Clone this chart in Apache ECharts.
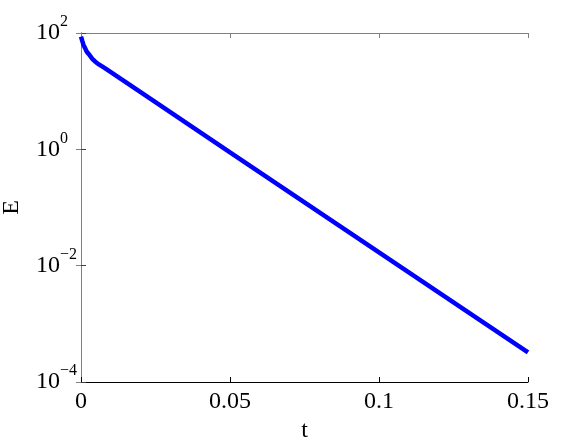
<!DOCTYPE html>
<html>
<head>
<meta charset="utf-8">
<script src="https://cdn.jsdelivr.net/npm/echarts@6/dist/echarts.min.js"></script>
<style>
  html, body { margin: 0; padding: 0; background: #fff; }
  #chart { width: 582px; height: 439px; }
</style>
</head>
<body>
<div id="chart"></div>
<script>
// t values and energy E
const tValues = [0, 0.0004, 0.0008, 0.0013, 0.0019, 0.0025, 0.003, 0.0038, 0.0047, 0.006, 0.008, 0.02, 0.05, 0.09, 0.12, 0.15];
const eValues = [87, 74, 63, 56, 48, 44, 41, 36, 32.4, 28.8, 24.8, 9.6, 0.89, 0.0375, 0.00348, 0.000324];
const xTicks = [0, 0.05, 0.1, 0.15];
const yTicks = [1e-4, 1e-2, 1, 1e2];

const chart = echarts.init(document.getElementById('chart'));
const serif = 'Times New Roman';

const supLabel = (v) => {
  const exp = Math.round(Math.log10(v));
  return '{base|10}{sup|' + (exp < 0 ? '\u2212' + (-exp) : exp) + '}';
};

const option = {
  animation: false,
  backgroundColor: '#fff',
  grid: { left: 81, top: 33, right: 54, bottom: 57, containLabel: false, outerBoundsMode: 'none' },
  xAxis: [
    {
      type: 'value',
      min: 0,
      max: 0.15,
      interval: 0.05,
      name: 't',
      nameLocation: 'middle',
      nameGap: 35,
      nameTextStyle: { fontFamily: serif, fontSize: 24, color: '#000' },
      axisLine: { show: true, lineStyle: { color: '#000', width: 1 } },
      axisTick: { show: true, inside: true, length: 5, customValues: xTicks, lineStyle: { color: '#000' } },
      axisLabel: {
        customValues: xTicks,
        fontFamily: serif, fontSize: 24, color: '#000', margin: 8,
        formatter: (v) => String(Math.round(v * 100) / 100)
      },
      splitLine: { show: false }
    },
    {
      type: 'value',
      position: 'top',
      min: 0,
      max: 0.15,
      interval: 0.05,
      axisLine: { show: true, lineStyle: { color: '#808080', width: 1 } },
      axisTick: { show: true, inside: true, length: 5, lineStyle: { color: '#808080' } },
      axisLabel: { show: false },
      splitLine: { show: false }
    }
  ],
  yAxis: [
    {
      type: 'log',
      logBase: 10,
      min: 1e-4,
      max: 1e2,
      name: 'E',
      nameLocation: 'middle',
      nameGap: 57,
      nameRotate: 90,
      nameTextStyle: { fontFamily: serif, fontSize: 24, color: '#000' },
      axisLine: { show: true, lineStyle: { color: '#404040', width: 1 } },
      axisTick: { show: true, inside: true, length: 5, customValues: yTicks, lineStyle: { color: '#404040' } },
      axisLabel: {
        customValues: yTicks,
        align: 'left',
        margin: 45,
        fontFamily: serif,
        formatter: supLabel,
        rich: {
          base: { fontFamily: serif, fontSize: 24, color: '#000' },
          sup: { fontFamily: serif, fontSize: 16, color: '#000', verticalAlign: 'top', padding: [0, 0, 22, 0] }
        }
      },
      splitLine: { show: false }
    },
    {
      type: 'log',
      logBase: 10,
      min: 1e-4,
      max: 1e2,
      position: 'right',
      axisLine: { show: true, lineStyle: { color: '#808080', width: 1 } },
      axisTick: { show: true, inside: true, length: 5, customValues: yTicks, lineStyle: { color: '#808080' } },
      axisLabel: { show: false },
      splitLine: { show: false }
    }
  ],
  series: [
    {
      type: 'line',
      data: tValues.map((t, i) => [t, eValues[i]]),
      showSymbol: false,
      smooth: false,
      lineStyle: { color: '#0000ff', width: 4.5 },
      clip: true
    }
  ]
};

chart.setOption(option);
</script>
</body>
</html>
